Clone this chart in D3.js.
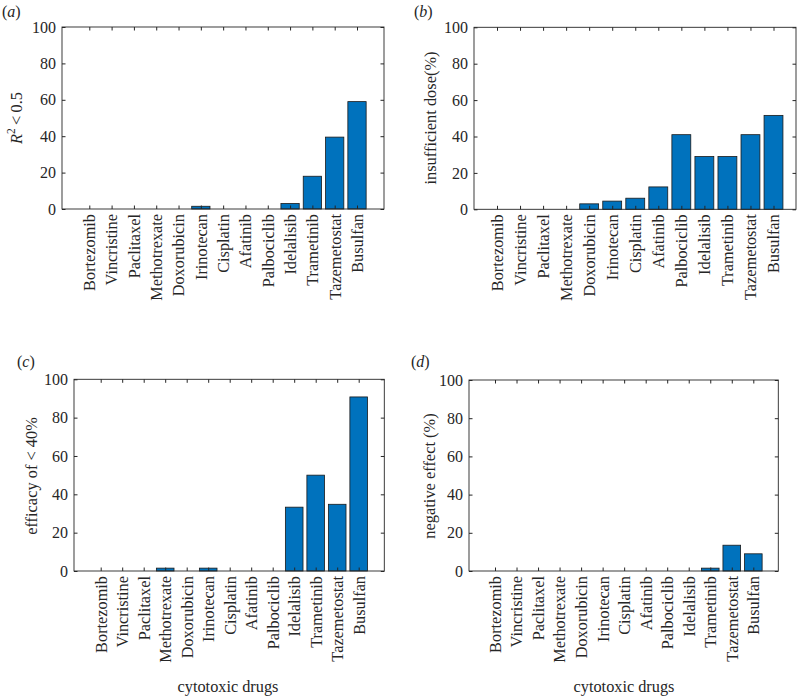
<!DOCTYPE html>
<html>
<head>
<meta charset="utf-8">
<script src="https://cdn.jsdelivr.net/npm/d3@7"></script>
<style>
  html, body { margin: 0; padding: 0; background: #fff; }
  svg text { font-family: "Liberation Serif", "Times New Roman", serif; fill: #262626; }
</style>
</head>
<body>
<svg id="chart" width="797" height="697"></svg>
<script>
// ---- data ----
const drugsA = ["Bortezomib","Vincristine","Paclitaxel","Methotrexate","Doxorubicin","Irinotecan","Cisplatin","Afatinib","Palbociclib","Idelalisib","Trametinib","Tazemetostat","Busulfan"];
const valuesA = [0,0,0,0,0,1.5,0,0,0,3,18,39.5,59];

const drugsB = ["Bortezomib","Vincristine","Paclitaxel","Methotrexate","Doxorubicin","Irinotecan","Cisplatin","Afatinib","Palbociclib","Idelalisib","Trametinib","Tazemetostat","Busulfan"];
const valuesB = [0,0,0,0,3,4.5,6.1,12.3,41,29,29,41,51.6];

const drugsC = ["Bortezomib","Vincristine","Paclitaxel","Methotrexate","Doxorubicin","Irinotecan","Cisplatin","Afatinib","Palbociclib","Idelalisib","Trametinib","Tazemetostat","Busulfan"];
const valuesC = [0,0,0,1.5,0,1.5,0,0,0,33.3,50,34.8,90.8];

const drugsD = ["Bortezomib","Vincristine","Paclitaxel","Methotrexate","Doxorubicin","Irinotecan","Cisplatin","Afatinib","Palbociclib","Idelalisib","Trametinib","Tazemetostat","Busulfan"];
const valuesD = [0,0,0,0,0,0,0,0,0,0,1.5,13.5,9];

const yTicks = [0,20,40,60,80,100];
const xTitle = "cytotoxic drugs";

const svg = d3.select("#chart");

// font sizes (Liberation Serif, fitted to the reference text extents)
const catSize = 16.3;
const tickSize = 16;
const ylabSize = 16.4;
const xtitleSize = 16.3;

// ---- layout ----
const panels = [
  {id:"a", drugs:drugsA, values:valuesA, left:62, right:384, top:27, bottom:209, t0:89.3, t1:357,
   ylab:"A", ylx:16, yly:118, plx:2, ply:17, xtitle:false},
  {id:"b", drugs:drugsB, values:valuesB, left:474, right:796, top:27.3, bottom:209.3, t0:497, t1:773.5,
   ylab:"insufficient dose(%)", ylx:430, yly:118, plx:414, ply:17, xtitle:false},
  {id:"c", drugs:drugsC, values:valuesC, left:74, right:384.3, top:379.3, bottom:571, t0:100.7, t1:358.7,
   ylab:"efficacy of < 40%", ylx:31, yly:476, plx:17, ply:367, xtitle:true, xtx:228, xty:692},
  {id:"d", drugs:drugsD, values:valuesD, left:469, right:778.3, top:380, bottom:571, t0:495, t1:753.3,
   ylab:"negative effect (%)", ylx:429, yly:476, plx:411, ply:367, xtitle:true, xtx:624, xty:692}
];

const barColor = "#0072BD";
const axisColor = "#262626";

panels.forEach(p => {
  const g = svg.append("g");
  const idx = p.drugs.map((d,i)=>i+1);
  const x = d3.scaleLinear().domain([1, p.drugs.length]).range([p.t0, p.t1]);
  const step = (p.t1 - p.t0) / (p.drugs.length - 1);
  const bw = step * 0.82;
  const y = d3.scaleLinear().domain([0,100]).range([p.bottom, p.top]);

  // bars
  const data = p.drugs.map((d,i)=>({d, i:i+1, v:p.values[i]})).filter(o=>o.v>0);
  g.selectAll("rect.bar").data(data).enter().append("rect")
    .attr("class","bar")
    .attr("x", o => x(o.i) - bw/2)
    .attr("width", bw)
    .attr("y", o => y(o.v))
    .attr("height", o => y(0) - y(o.v))
    .attr("fill", barColor)
    .attr("stroke", "#1a1a1a")
    .attr("stroke-width", 0.8);

  // box
  g.append("rect")
    .attr("x", p.left).attr("y", p.top)
    .attr("width", p.right - p.left).attr("height", p.bottom - p.top)
    .attr("fill","none").attr("stroke", axisColor).attr("stroke-width", 0.9);

  const tl = 3.5;
  // left axis
  const yAxisL = d3.axisLeft(y).tickValues(yTicks).tickSize(-tl).tickPadding(5).tickFormat(d3.format("d"));
  const gl = g.append("g").attr("transform", `translate(${p.left},0)`).call(yAxisL);
  gl.select(".domain").remove();
  gl.selectAll("line").attr("stroke", axisColor);
  gl.selectAll("text").attr("font-size", tickSize).attr("fill", axisColor)
    .style("font-family", '"Liberation Serif", serif').attr("dx", -1);
  // right ticks
  const yAxisR = d3.axisRight(y).tickValues(yTicks).tickSize(-tl).tickFormat("");
  const gr = g.append("g").attr("transform", `translate(${p.right},0)`).call(yAxisR);
  gr.select(".domain").remove();
  gr.selectAll("line").attr("stroke", axisColor);

  // bottom axis with rotated category labels
  const xAxisB = d3.axisBottom(x).tickValues(idx).tickSize(-tl).tickFormat(i => p.drugs[i-1]);
  const gb = g.append("g").attr("transform", `translate(0,${p.bottom})`).call(xAxisB);
  gb.select(".domain").remove();
  gb.selectAll("line").attr("stroke", axisColor);
  gb.selectAll("text")
    .attr("font-size", catSize).attr("fill", axisColor)
    .style("font-family", '"Liberation Serif", serif')
    .attr("text-anchor","end")
    .attr("transform","rotate(-90)")
    .attr("x", -5).attr("y", 0).attr("dy", "0.33em");
  // top ticks
  const xAxisT = d3.axisTop(x).tickValues(idx).tickSize(-tl).tickFormat("");
  const gt = g.append("g").attr("transform", `translate(0,${p.top})`).call(xAxisT);
  gt.select(".domain").remove();
  gt.selectAll("line").attr("stroke", axisColor);

  // panel label
  const pl = g.append("text").attr("x", p.plx).attr("y", p.ply).attr("font-size", tickSize);
  pl.append("tspan").text("(");
  pl.append("tspan").attr("font-style","italic").text(p.id);
  pl.append("tspan").text(")");

  // y label
  const yl = g.append("text")
    .attr("transform", `translate(${p.ylx},${p.yly}) rotate(-90)`)
    .attr("text-anchor","middle").attr("dy","0.35em").attr("font-size", ylabSize);
  if (p.ylab === "A") {
    yl.append("tspan").attr("font-style","italic").text("R");
    yl.append("tspan").attr("font-size", ylabSize*0.7).attr("dy", "-0.55em").text("2");
    yl.append("tspan").attr("dy", "0.38em").text("\u2009<\u20090.5");
  } else {
    yl.text(p.ylab);
  }

  if (p.xtitle) {
    g.append("text").attr("x", p.xtx).attr("y", p.xty).attr("text-anchor","middle")
      .attr("font-size", xtitleSize).text(xTitle);
  }
});
</script>
</body>
</html>
